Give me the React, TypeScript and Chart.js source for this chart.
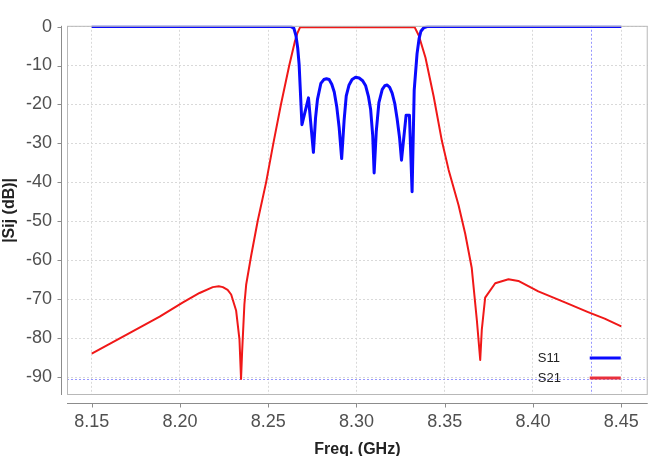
import React, { useEffect, useRef } from 'react';
import { Chart, registerables } from 'chart.js';

Chart.register(...registerables);

// ---- Data ----
const xTickValues = [8.15, 8.2, 8.25, 8.3, 8.35, 8.4, 8.45];
const yTickValues = [0, -10, -20, -30, -40, -50, -60, -70, -80, -90];
const seriesLabels = ['S11', 'S21'];

const s11Freq = [
  8.15, 8.2629, 8.2645, 8.2657, 8.2667, 8.2675, 8.2691, 8.2728, 8.2756,
  8.2768, 8.2779, 8.2798, 8.2815, 8.283, 8.2845, 8.286, 8.2874, 8.2888, 8.2902, 8.2916,
  8.293, 8.2942, 8.2958, 8.2975, 8.2995, 8.3015, 8.3035, 8.3052, 8.3068, 8.308, 8.3092, 8.31,
  8.3112, 8.3127, 8.3146, 8.316, 8.3174, 8.3188, 8.3202, 8.3217, 8.323, 8.3244, 8.3255,
  8.3281, 8.33, 8.3315, 8.3327, 8.3343, 8.3355, 8.3365, 8.3381, 8.34, 8.45,
];
const s11Db = [
  0, 0, -0.4, -2.3, -5.5, -9.7, -25.2, -18.3, -32.3,
  -23.5, -18.7, -14.6, -13.6, -13.4, -13.6, -14.8, -16.8, -20.5, -26.0, -33.9,
  -24.0, -17.8, -15.0, -13.6, -13.0, -13.2, -13.9, -15.2, -18.0, -21.2, -28.0, -37.6,
  -27.0, -19.5, -16.1, -15.2, -15.0, -15.6, -17.1, -19.8, -23.6, -28.5, -34.3,
  -22.8, -22.8, -42.4, -16.3, -7.0, -3.0, -1.2, -0.3, 0, 0,
];

const s21Freq = [
  8.15, 8.1698, 8.1885, 8.2017, 8.2111, 8.2186, 8.222, 8.2243, 8.227, 8.229,
  8.2318, 8.2337, 8.2346, 8.2352, 8.2365, 8.2375, 8.2403, 8.244, 8.2488, 8.2529,
  8.2572, 8.2619, 8.265, 8.2666, 8.268, 8.3, 8.333, 8.3353, 8.3391, 8.3437,
  8.3484, 8.3522, 8.3578, 8.3616, 8.3653, 8.3682, 8.3701, 8.371, 8.3729, 8.3786,
  8.3861, 8.3917, 8.403, 8.4181, 8.4312, 8.4406, 8.45,
];
const s21Db = [
  -84.0, -79.1, -74.5, -70.8, -68.4, -66.9, -66.7, -66.9, -67.6, -68.8,
  -72.9, -80.3, -90.5, -83.6, -71.3, -66.3, -58.9, -50.0, -40.0, -30.0,
  -20.0, -10.0, -4.0, -1.6, -0.2, -0.2, -0.2, -2.3, -8.0, -17.9,
  -29.4, -36.8, -45.8, -53.2, -62.0, -75.4, -85.6, -77.8, -69.6, -65.9,
  -64.9, -65.3, -68.0, -70.8, -73.3, -75.0, -77.0,
];

// crosshair marker values
const markerFreq = 8.433;
const markerDb = -90.5;

const X_MIN = 8.136;
const X_MAX = 8.465;
const Y_MIN = -94.6;
const Y_MAX = 0.2;

const BLUE = '#0a0aff';
const RED = '#f01818';

const framePlugin = {
  id: 'frameDeco',
  beforeDatasetsDraw(chart: any) {
    const { ctx, chartArea: a, scales } = chart;
    const px = Math.round(scales.x.getPixelForValue(markerFreq)) + 0.5;
    const py = Math.round(scales.y.getPixelForValue(markerDb)) + 0.5;
    ctx.save();
    ctx.globalAlpha = 1;
    ctx.strokeStyle = 'rgb(150,150,255)';
    ctx.lineWidth = 1;
    ctx.setLineDash([2, 2]);
    ctx.beginPath();
    ctx.moveTo(px, a.top);
    ctx.lineTo(px, a.bottom);
    ctx.stroke();
    ctx.beginPath();
    ctx.moveTo(a.left, py);
    ctx.lineTo(a.right, py);
    ctx.stroke();
    ctx.restore();
  },
  afterDraw(chart: any) {
    const { ctx, chartArea: a, scales } = chart;
    ctx.save();
    ctx.setLineDash([]);
    // plot border
    ctx.strokeStyle = '#b8b8b8';
    ctx.lineWidth = 1;
    ctx.strokeRect(a.left + 0.5, a.top + 0.5, a.right - a.left - 1, a.bottom - a.top - 1);
    // offset axis lines
    const ax = a.left - 6 + 0.5;
    const ay = a.bottom + 8 + 0.5;
    ctx.strokeStyle = '#8c8c8c';
    ctx.beginPath();
    ctx.moveTo(ax, a.top);
    ctx.lineTo(ax, a.bottom);
    yTickValues.forEach((v) => {
      const p = Math.round(scales.y.getPixelForValue(v)) + 0.5;
      ctx.moveTo(ax - 4, p);
      ctx.lineTo(ax, p);
    });
    ctx.moveTo(a.left, ay);
    ctx.lineTo(a.right, ay);
    xTickValues.forEach((v) => {
      const p = Math.round(scales.x.getPixelForValue(v)) + 0.5;
      ctx.moveTo(p, ay);
      ctx.lineTo(p, ay + 4);
    });
    ctx.stroke();
    // legend inside plot, lower right
    const colors = [BLUE, '#e8303c'];
    ctx.font = '13px "Liberation Sans", Arial, sans-serif';
    ctx.textBaseline = 'middle';
    ctx.textAlign = 'left';
    seriesLabels.forEach((lab, i) => {
      const y = a.bottom - 37 + i * 20;
      ctx.fillStyle = '#222';
      ctx.fillText(lab, a.right - 110, y);
      ctx.strokeStyle = colors[i];
      ctx.lineWidth = 3;
      ctx.beginPath();
      ctx.moveTo(a.right - 58, y);
      ctx.lineTo(a.right - 27, y);
      ctx.stroke();
    });
    ctx.restore();
  },
};

export default function App() {
  const ref = useRef<HTMLCanvasElement | null>(null);
  useEffect(() => {
    if (!ref.current) return;
    const chart = new Chart(ref.current, {
      type: 'line',
      data: {
        datasets: [
          {
            label: seriesLabels[0],
            data: s11Freq.map((f, i) => ({ x: f, y: s11Db[i] })),
            borderColor: BLUE,
            backgroundColor: BLUE,
            borderWidth: 3,
            pointRadius: 0,
            tension: 0,
            borderJoinStyle: 'round',
          },
          {
            label: seriesLabels[1],
            data: s21Freq.map((f, i) => ({ x: f, y: s21Db[i] })),
            borderColor: RED,
            backgroundColor: RED,
            borderWidth: 2,
            pointRadius: 0,
            tension: 0,
            borderJoinStyle: 'round',
          },
        ],
      },
      options: {
        animation: false,
        responsive: false,
        layout: { padding: { left: 0, top: 10, right: 5, bottom: 0 } },
        plugins: {
          legend: { display: false },
          tooltip: { enabled: false },
        },
        scales: {
          x: {
            type: 'linear',
            min: X_MIN,
            max: X_MAX,
            afterBuildTicks: (scale: any) => {
              scale.ticks = xTickValues.map((v) => ({ value: v }));
            },
            afterFit: (scale: any) => {
              scale.height = 61;
            },
            grid: { color: '#d9d9d9', drawTicks: false, lineWidth: 1 },
            border: { display: false, dash: [2, 2] },
            ticks: {
              padding: 16,
              color: '#505050',
              font: { family: '"Liberation Sans", Arial, sans-serif', size: 18 },
              callback: (v: any) => Number(v).toFixed(2),
              maxRotation: 0,
              autoSkip: false,
            },
            title: {
              display: true,
              text: 'Freq. (GHz)',
              color: '#222',
              font: { family: '"Liberation Sans", Arial, sans-serif', size: 16, weight: 'bold' },
              padding: { top: 0, bottom: -3 },
            },
          },
          y: {
            type: 'linear',
            min: Y_MIN,
            max: Y_MAX,
            afterBuildTicks: (scale: any) => {
              scale.ticks = yTickValues.map((v) => ({ value: v }));
            },
            afterFit: (scale: any) => {
              scale.width = 67;
            },
            grid: { color: '#d9d9d9', drawTicks: false, lineWidth: 1 },
            border: { display: false, dash: [2, 2] },
            ticks: {
              padding: 15,
              color: '#505050',
              font: { family: '"Liberation Sans", Arial, sans-serif', size: 18 },
              callback: (v: any) => String(Math.round(Number(v))),
              autoSkip: false,
            },
            title: {
              display: true,
              text: '|Sij (dB)|',
              color: '#222',
              font: { family: '"Liberation Sans", Arial, sans-serif', size: 16, weight: 'bold' },
              padding: { top: 0, bottom: 0 },
            },
          },
        },
      },
      plugins: [framePlugin],
    } as any);
    return () => chart.destroy();
  }, []);
  return (
    <div style={{ position: 'absolute', left: 0, top: 0, width: 655, height: 456, background: '#fff' }}>
      <canvas ref={ref} width={655} height={456} style={{ display: 'block' }} />
    </div>
  );
}
